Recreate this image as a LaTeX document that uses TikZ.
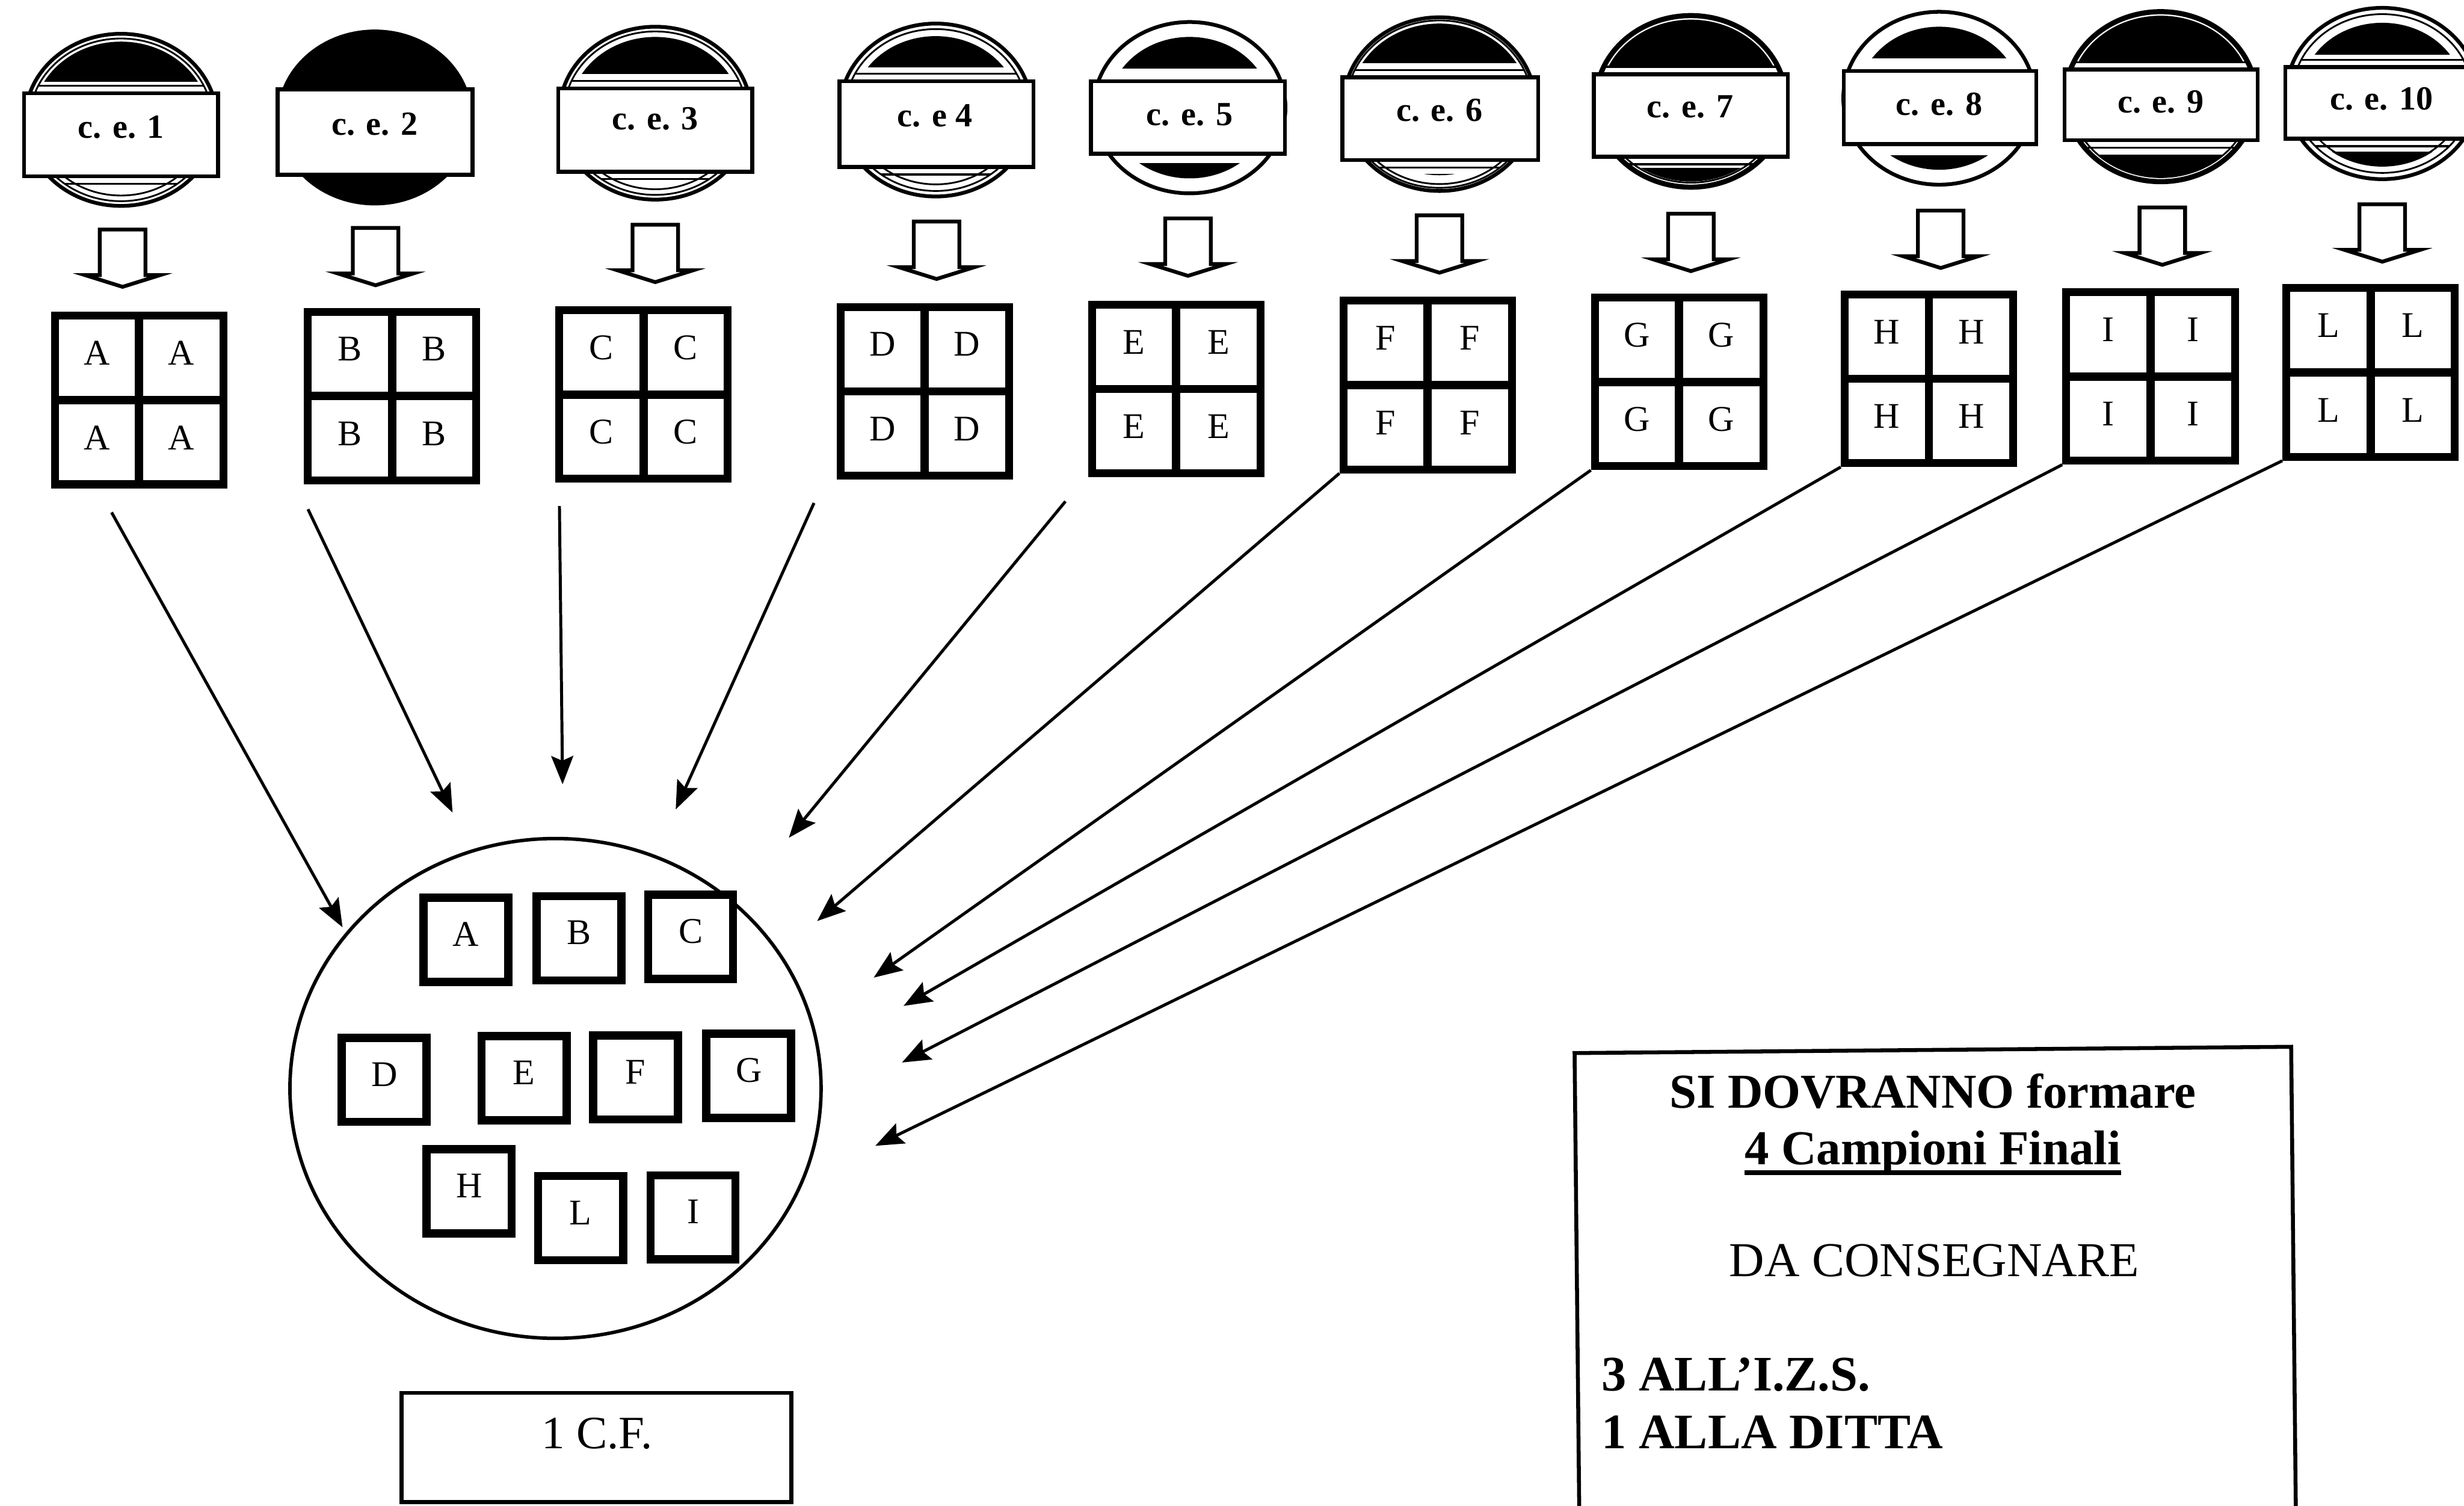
\documentclass[tikz,border=0pt]{standalone}
\usepackage{fontspec}
\setmainfont{Liberation Serif}
\usetikzlibrary{arrows.meta,shapes.geometric}
\tikzset{
  x=1pt,y=-1pt,
  cebox/.style={draw,line width=2.5pt,fill=white,inner sep=0pt},
  celabel/.style={inner sep=0pt,font=\fontsize{21.5}{23}\bfseries\selectfont},
  blockarrow/.style={draw,line width=2.4pt,fill=white,line join=miter},
  cell/.style={draw,line width=5pt,minimum width=53.5pt,minimum height=53.5pt,inner sep=0pt,fill=white},
  letter/.style={inner sep=0pt,font=\fontsize{23}{25}\selectfont},
  smallbox/.style={draw,line width=5.2pt,minimum width=54pt,minimum height=53.5pt,inner sep=0pt,fill=white},
  feed/.style={line width=1.9pt,-{Stealth[length=18pt,width=14pt,inset=3pt]}},
  frame/.style={draw,line width=2.5pt,inner sep=0pt},
  bigtxt/.style={inner sep=0pt,font=\fontsize{31}{33}\selectfont},
  bigbold/.style={inner sep=0pt,font=\fontsize{31}{33}\bfseries\selectfont},
  biglist/.style={inner sep=0pt,font=\fontsize{31.6}{33}\bfseries\selectfont},
}
\begin{document}
\begin{tikzpicture}
\useasboundingbox (0,0) rectangle (1568,958);
\clip (0,0) rectangle (1568,958);

% sample units: ellipse, label strip, block arrow, 2x2 grid
\foreach \id/\cx/\ty/\by/\rl/\rr/\rt/\rb/\lx/\ly/\lab/\ti/\tg/\bi/\bg/\rng/\ax/\ay/\gx/\gy/\ltr in {
  1/77/21.5/131/14/140/58/113.5/77/81/c. e. 1/5/6/11/7/3/78/146/88.5/254.5/A,
  2/238.5/20/129.5/175.5/302/55.5/112.5/238.5/79/c. e. 2/0/0/0/0/0/239/145/249.5/252/B,
  3/417/17/127/354/480/55/110.5/417/75.5/c. e. 3/6.5/8/10/7/3/417/143/409.5/251/C,
  4/595.5/15/125/533/659/50.5/107.5/595/73.5/c. e 4/8/8/12/7/3.5/596/141/588.5/249/D,
  5/757/14/123/693/819/50.5/99/757/73/c. e. 5/9.5/7/9.5/5/0/756/139/748.5/247.5/E,
  6/916/11/121.5/853/980/48/103/916/70/c. e. 6/4/8/10/8/2/916/137/908.5/245/F,
  7/1076/9.5/119.5/1013/1139/46/101/1075.5/68/c. e. 7/3/4/4/6/1.5/1076/136/1068.5/243/G,
  8/1234/7.5/117.5/1172/1297/44/93/1234/66.5/c. e. 8/9.5/7/9.5/6/0/1235/134/1227.5/241/H,
  9/1375/7/116/1312.5/1438/43/90.5/1375/65/c. e. 9/3/4/3/8/1.5/1376/132/1368.5/239.5/I,
  10/1516/5/114/1453/1580/41.5/89.5/1515.5/63/c. e. 10/9.5/7/8/7/4/1516/130/1508.5/237/L}
{
  \pgfmathsetmacro{\cy}{(\ty+\by)/2}
  \pgfmathsetmacro{\ry}{(\by-\ty)/2}
  \pgfmathsetmacro{\rw}{\rr-\rl-2.5}
  \pgfmathsetmacro{\rh}{\rb-\rt-2.5}
  \pgfmathsetmacro{\rcx}{(\rl+\rr)/2}
  \pgfmathsetmacro{\rcy}{(\rt+\rb)/2}
  \pgfmathsetmacro{\ta}{61-\ti}
  \pgfmathsetmacro{\tb}{\ry-\ti}
  \pgfmathsetmacro{\ba}{61-\bi}
  \pgfmathsetmacro{\bb}{\ry-\bi}
  \pgfmathsetmacro{\rga}{61-\rng}
  \pgfmathsetmacro{\rgb}{\ry-\rng}
  \pgfmathsetmacro{\rgc}{61-2.2*\rng}
  \pgfmathsetmacro{\rgd}{\ry-2.2*\rng}
  \pgfmathsetmacro{\cuttop}{\rt-\tg}
  \pgfmathsetmacro{\cutbot}{\rb+\bg}
  % black caps
  \begin{scope}
    \clip (\cx-70,\ty-3) rectangle (\cx+70,\cuttop);
    \fill[black] (\cx,\cy) ellipse ({\ta} and {\tb});
  \end{scope}
  \begin{scope}
    \clip (\cx-70,\cutbot) rectangle (\cx+70,\by+3);
    \fill[black] (\cx,\cy) ellipse ({\ba} and {\bb});
  \end{scope}
  \ifdim\rng pt>0pt
    \draw[line width=1.1pt,black] (\cx,\cy) ellipse ({\rga} and {\rgb});
    \begin{scope}
      \clip (\cx,\cy) ellipse ({\rga} and {\rgb});
      \draw[line width=1.2pt] (\cx-70,\rt-3.5) -- (\cx+70,\rt-3.5);
      \draw[line width=1.2pt] (\cx-70,\rb+3.5) -- (\cx+70,\rb+3.5);
    \end{scope}
    \begin{scope}
      \clip (\cx-70,\rb) rectangle (\cx+70,\by+3);
      \draw[line width=1.1pt,black] (\cx,\cy) ellipse ({\rgc} and {\rgd});
    \end{scope}
  \fi
  \draw[line width=2.4pt] (\cx,\cy) ellipse (61 and \ry);
  % strip
  \node[cebox,minimum width=\rw pt,minimum height=\rh pt] (ce\id) at (\rcx,\rcy) {};
  \node[celabel] (cet\id) at (\lx,\ly) {\lab};
  % block arrow
  \draw[blockarrow] (\ax-14.5,\ay) -- (\ax+14.5,\ay) -- (\ax+14.5,\ay+29) -- (\ax+24,\ay+29)
     -- (\ax,\ay+36.5) -- (\ax-24,\ay+29) -- (\ax-14.5,\ay+29) -- cycle;
  % 2x2 grid
  \node[cell] (g\id a) at (\gx-26.9,\gy-26.9) {};
  \node[cell] (g\id b) at (\gx+26.9,\gy-26.9) {};
  \node[cell] (g\id c) at (\gx-26.9,\gy+26.9) {};
  \node[cell] (g\id d) at (\gx+26.9,\gy+26.9) {};
  \node[letter,yshift=3pt] (l\id a) at (g\id a) {\ltr};
  \node[letter,yshift=3pt] (l\id b) at (g\id b) {\ltr};
  \node[letter,yshift=3pt] (l\id c) at (g\id c) {\ltr};
  \node[letter,yshift=3pt] (l\id d) at (g\id d) {\ltr};
}

% final sample
\node[draw,ellipse,line width=2.2pt,minimum width=338pt,minimum height=318pt,inner sep=0pt] (final) at (353.5,692.5) {};
\foreach \n/\x/\y in {A/296.5/598,B/368.5/597,C/439.5/596,D/244.5/687,E/333.5/686,F/404.5/685.5,G/476.5/684.5,H/298.5/758,L/369.5/775,I/441/774.5}
{
  \node[smallbox] (s\n) at (\x,\y) {};
  \node[letter,yshift=3.5pt] (st\n) at (s\n) {\n};
}

% feeding arrows
\coordinate (f1) at (71,326);   \coordinate (e1) at (218,590);
\coordinate (f2) at (196,324);  \coordinate (e2) at (288,517);
\coordinate (f3) at (356,322);  \coordinate (e3) at (358,499);
\coordinate (f4) at (518,320);  \coordinate (e4) at (430,515);
\coordinate (f5) at (678,319);  \coordinate (e5) at (502,533);
\coordinate (e6) at (520,586);
\coordinate (e7) at (556,622);
\coordinate (e8) at (575,640);
\coordinate (e9) at (574,676);
\coordinate (e10) at (557,729);
\foreach \i in {1,...,5} \draw[feed] (f\i) -- (e\i);
\foreach \i in {6,...,10} \draw[feed] (g\i c.south west) -- (e\i);

% 1 C.F. box
\node[frame,minimum width=248pt,minimum height=69.5pt] (cf) at (379.5,921) {};
\node[inner sep=0pt,font=\fontsize{29.5}{31}\selectfont] (cft) at (380,912) {1 C.F.};

% note box
\coordinate (nbl) at (1005,965);
\coordinate (ntl) at (1002,670);
\coordinate (ntr) at (1458,666);
\coordinate (nbr) at (1461,965);
\draw[line width=2.5pt] (nbl) -- (ntl) -- (ntr) -- (nbr);
\node[bigbold,anchor=base] (n1) at (1230,705) {SI DOVRANNO formare};
\node[bigbold,anchor=base] (n2) at (1230,741) {4 Campioni Finali};
\draw[line width=3pt] ([yshift=-5pt]n2.base west) -- ([yshift=-5pt]n2.base east);
\node[bigtxt,anchor=base] (n3) at (1231,812) {DA CONSEGNARE};
\node[biglist,anchor=base west] (n4) at (1019,885) {3 ALL’I.Z.S.};
\node[biglist,anchor=base west] (n5) at (1019,921.5) {1 ALLA DITTA};
\end{tikzpicture}
\end{document}
